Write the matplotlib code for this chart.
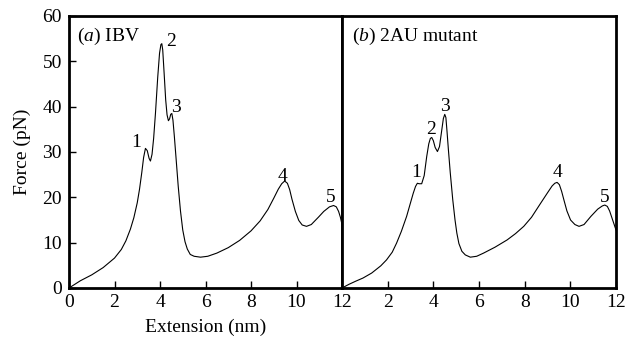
import matplotlib
matplotlib.use("Agg")
import matplotlib.pyplot as plt

plt.rcParams['font.family'] = ['Liberation Serif', 'DejaVu Serif']
plt.rcParams['mathtext.fontset'] = 'custom'
plt.rcParams['mathtext.rm'] = 'Liberation Serif'
plt.rcParams['mathtext.it'] = 'Liberation Serif:italic'

# Panel (a) IBV: extension (nm) and force (pN)
ext_a = [0.0, 0.25, 0.5, 1.0, 1.5, 2.0, 2.3, 2.5, 2.7, 2.85, 3.0, 3.1, 3.2, 3.28, 3.36, 3.44,
         3.52, 3.58, 3.65, 3.72, 3.8, 3.9, 3.98, 4.04, 4.08, 4.12, 4.18, 4.25, 4.31, 4.37, 4.42,
         4.47, 4.52, 4.57, 4.63, 4.7, 4.8, 4.9, 5.0, 5.1, 5.2, 5.33, 5.5, 5.78, 6.1, 6.5, 7.0,
         7.5, 8.0, 8.4, 8.74, 9.0, 9.2, 9.35, 9.48, 9.6, 9.7, 9.8, 9.95, 10.1, 10.25, 10.44,
         10.65, 10.96, 11.2, 11.45, 11.63, 11.75, 11.85, 11.93, 12.0]
force_a = [0.0, 0.8, 1.6, 2.9, 4.5, 6.6, 8.5, 10.4, 13.0, 15.5, 18.8, 21.8, 25.5, 28.8, 30.8, 30.3,
           28.6, 28.0, 29.5, 33.0, 38.5, 46.5, 51.8, 53.7, 53.9, 52.5, 47.5, 41.5, 38.2, 36.9, 37.3,
           38.3, 38.5, 37.0, 33.5, 29.0, 22.5, 17.0, 12.8, 10.2, 8.6, 7.4, 7.0, 6.8, 7.0, 7.7, 8.9,
           10.5, 12.6, 14.8, 17.3, 19.8, 21.8, 23.0, 23.6, 23.1, 21.7, 19.6, 16.9, 14.9, 13.9, 13.6,
           14.0, 15.6, 16.9, 17.9, 18.2, 17.9, 16.9, 15.6, 14.0]

# Panel (b) 2AU mutant
ext_b = [0.0, 0.3, 0.6, 0.92, 1.3, 1.7, 1.95, 2.2, 2.39, 2.6, 2.83, 3.0, 3.12, 3.22, 3.3, 3.38,
         3.49, 3.6, 3.71, 3.8, 3.87, 3.93, 4.0, 4.08, 4.18, 4.27, 4.36, 4.44, 4.5, 4.55, 4.6,
         4.66, 4.74, 4.85, 4.95, 5.03, 5.12, 5.25, 5.4, 5.62, 5.9, 6.2, 6.7, 7.23, 7.6, 7.96,
         8.3, 8.7, 9.0, 9.2, 9.32, 9.42, 9.52, 9.62, 9.72, 9.85, 10.01, 10.2, 10.38, 10.6, 10.9,
         11.2, 11.4, 11.51, 11.62, 11.72, 11.8, 11.9, 12.0]
force_b = [0.0, 0.8, 1.5, 2.2, 3.3, 4.9, 6.2, 7.9, 9.9, 12.5, 15.8, 18.8, 20.9, 22.4, 23.1, 23.0,
           23.0, 24.8, 29.0, 31.8, 33.0, 33.2, 32.5, 31.0, 30.1, 31.2, 34.5, 37.4, 38.3, 37.6, 34.5,
           30.5, 25.5, 19.5, 15.0, 12.1, 9.8, 8.1, 7.3, 6.8, 7.0, 7.7, 9.0, 10.6, 12.0, 13.6,
           15.6, 18.7, 21.0, 22.5, 23.1, 23.3, 22.8, 21.3, 19.4, 17.0, 15.0, 14.0, 13.6, 14.0, 15.8,
           17.4, 18.1, 18.3, 18.0, 17.0, 15.8, 14.3, 12.8]

peak_labels = ['1', '2', '3', '4', '5']
label_x_a = [2.95, 4.5, 4.72, 9.4, 11.5]
label_y_a = [32.0, 54.3, 39.9, 24.6, 20.0]
label_x_b = [3.25, 3.9, 4.5, 9.45, 11.5]
label_y_b = [25.4, 34.9, 40.1, 25.4, 20.0]

xticks_a = [0, 2, 4, 6, 8, 10, 12]
xticks_b = [2, 4, 6, 8, 10, 12]
yticks = [0, 10, 20, 30, 40, 50, 60]

fig = plt.figure(figsize=(6.26, 3.38), dpi=100)
ax1 = fig.add_axes([69/626, 1-288/338, 273/626, 272/338])
ax2 = fig.add_axes([342/626, 1-288/338, 274/626, 272/338])

fs = 14
for ax, ex, fo, lx, ly in [(ax1, ext_a, force_a, label_x_a, label_y_a),
                           (ax2, ext_b, force_b, label_x_b, label_y_b)]:
    ax.plot(ex, fo, color='black', lw=0.8)
    ax.set_xlim(0, 12)
    ax.set_ylim(0, 60)
    for s in ax.spines.values():
        s.set_linewidth(2.0)
    for t, x, y in zip(peak_labels, lx, ly):
        ax.text(x, y, t, ha='center', va='center', fontsize=fs)
    ax.tick_params(direction='in', length=5, width=1, labelsize=fs, pad=4)

ax1.set_xticks(xticks_a)
ax1.set_yticks(yticks)
ax1.tick_params(axis='y', direction='in', length=5, pad=5)
ax1.set_xlabel('Extension (nm)', fontsize=fs, labelpad=6)
ax1.set_ylabel('Force (pN)', fontsize=fs, labelpad=8)
ax1.text(0.03, 0.965, r'($\it{a}$) IBV', transform=ax1.transAxes, ha='left', va='top', fontsize=fs)

ax2.set_xticks(xticks_b)
ax2.set_yticks([])
ax2.text(0.037, 0.965, r'($\it{b}$) 2AU mutant', transform=ax2.transAxes, ha='left', va='top', fontsize=fs)

fig.savefig('out.png', dpi=100)
